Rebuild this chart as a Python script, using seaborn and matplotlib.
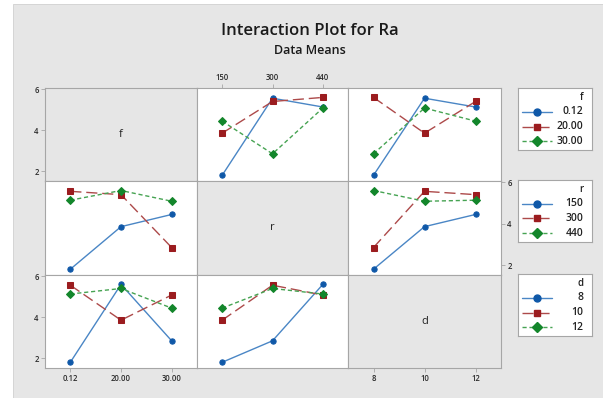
import matplotlib
matplotlib.use("Agg")
import matplotlib.pyplot as plt
import matplotlib.patches as mpatches
import seaborn as sns
import pandas as pd

# ---- data (L9 runs) ----
f_levels = ["0.12", "20.00", "30.00"]
r_levels = ["150", "300", "440"]
d_levels = ["8", "10", "12"]
run_f = ["0.12", "0.12", "0.12", "20.00", "20.00", "20.00", "30.00", "30.00", "30.00"]
run_r = ["150", "300", "440", "150", "300", "440", "150", "300", "440"]
run_d = ["8", "10", "12", "10", "12", "8", "12", "8", "10"]
run_ra = [1.80, 5.57, 5.14, 3.86, 5.41, 5.61, 4.45, 2.85, 5.09]

df = pd.DataFrame({"f": run_f, "r": run_r, "d": run_d, "Ra": run_ra})
factors = ["f", "r", "d"]
levels = {"f": f_levels, "r": r_levels, "d": d_levels}

sns.set_theme(style="white")
plt.rcParams["font.family"] = ["Open Sans", "DejaVu Sans"]

W, H = 603, 398
fig = plt.figure(figsize=(W / 100, H / 100), dpi=100)
fig.patch.set_facecolor("white")
BG = "#e6e6e6"
fig.patches.append(mpatches.Rectangle((13 / W, 0), 1 - 13 / W + 0.01, 1 - 4 / H,
                                      transform=fig.transFigure, facecolor=BG,
                                      edgecolor="#d0d0d0", lw=0.6, zorder=-10))

def rect(x0, y0, x1, y1):
    return [x0 / W, 1 - y1 / H, (x1 - x0) / W, (y1 - y0) / H]

cols = [(45, 197), (197, 348), (348, 501)]
rows = [(88, 181), (181, 275), (275, 368)]

dark = ["#0f58a8", "#9b1c1f", "#13862b"]
light = ["#4a86c5", "#ad4a4a", "#46a352"]
markers = ["o", "s", "D"]
lstyles = ["-", (0, (8, 3.5)), (0, (3, 2))]
SPINE = "#a6a6a6"
TICKC = "#2a2a2a"
YLIM = (1.52, 6.07)

fig.text(310 / W, 1 - 31 / H, "Interaction Plot for Ra", ha="center", va="center",
         fontsize=12, fontweight="semibold", color="#1a1a1a")
fig.text(310 / W, 1 - 50 / H, "Data Means", ha="center", va="center",
         fontsize=9, fontweight="semibold", color="#1a1a1a")

for i, fi in enumerate(factors):
    for j, fj in enumerate(factors):
        ax = fig.add_axes(rect(cols[j][0], rows[i][0], cols[j][1], rows[i][1]))
        if i == j:
            ax.set_facecolor(BG)
            ax.text(0.5, 0.5, fi, transform=ax.transAxes, ha="center", va="center",
                    fontsize=8, color="#222222")
        else:
            ax.set_facecolor("white")
            sns.pointplot(data=df, x=fj, y="Ra", hue=fi, order=levels[fj],
                          hue_order=levels[fi], palette=dark, markers=markers,
                          linestyles=lstyles, errorbar=None, legend=False, ax=ax,
                          markersize=3.8, linewidth=1.0)
            for ln in ax.lines:
                m = ln.get_marker()
                if m in markers:
                    k = markers.index(m)
                    ln.set_color(light[k])
                    ln.set_markerfacecolor(dark[k])
                    ln.set_markeredgecolor(dark[k])
                    ln.set_markersize(3.8 if m != "D" else 3.6)
        ax.set_xlim(-0.5, 2.5)
        ax.set_ylim(*YLIM)
        ax.set_xlabel("")
        ax.set_ylabel("")
        ax.set_xticks([0, 1, 2])
        ax.set_xticklabels(levels[fj])
        ax.set_yticks([2, 4, 6])
        ax.set_yticklabels(["2", "4", "6"])
        for s in ax.spines.values():
            s.set_color(SPINE)
            s.set_linewidth(0.8)
        show_left = (j == 0 and i in (0, 2))
        show_right = (j == 2 and i == 1)
        show_top = (i == 0 and j == 1)
        show_bottom = (i == 2 and j in (0, 2))
        ax.tick_params(axis="both", which="both", length=3, width=0.6, color=SPINE,
                       labelsize=5.5, labelcolor=TICKC, pad=1.5, direction="out",
                       left=show_left, labelleft=show_left,
                       right=show_right, labelright=show_right,
                       top=show_top, labeltop=show_top,
                       bottom=show_bottom, labelbottom=show_bottom)
        for lab in ax.get_xticklabels() + ax.get_yticklabels():
            lab.set_fontweight("semibold")
        ax.grid(False)

# ---- legends ----
leg_tops = [88, 180, 274]
for i, fi in enumerate(factors):
    top = leg_tops[i]
    lax = fig.add_axes(rect(518, top, 592, top + 62))
    lax.set_xlim(518, 592)
    lax.set_ylim(top + 62, top)
    lax.set_facecolor("white")
    lax.set_xticks([])
    lax.set_yticks([])
    for s in lax.spines.values():
        s.set_color(SPINE)
        s.set_linewidth(0.8)
    lax.text(583, top + 10, fi, ha="right", va="center", fontsize=7,
             fontweight="semibold", color="#222222")
    for k, lev in enumerate(levels[fi]):
        y = top + 24 + 14.5 * k
        lax.plot([522, 552], [y, y], color=light[k], linestyle=lstyles[k], lw=1.0)
        lax.plot([537], [y], marker=markers[k], color=dark[k],
                 markersize=5 if k < 2 else 4.6, linestyle="none")
        lax.text(583, y, lev, ha="right", va="center", fontsize=7.5,
                 fontweight="semibold", color="#222222")

fig.savefig("out.png", dpi=100)
